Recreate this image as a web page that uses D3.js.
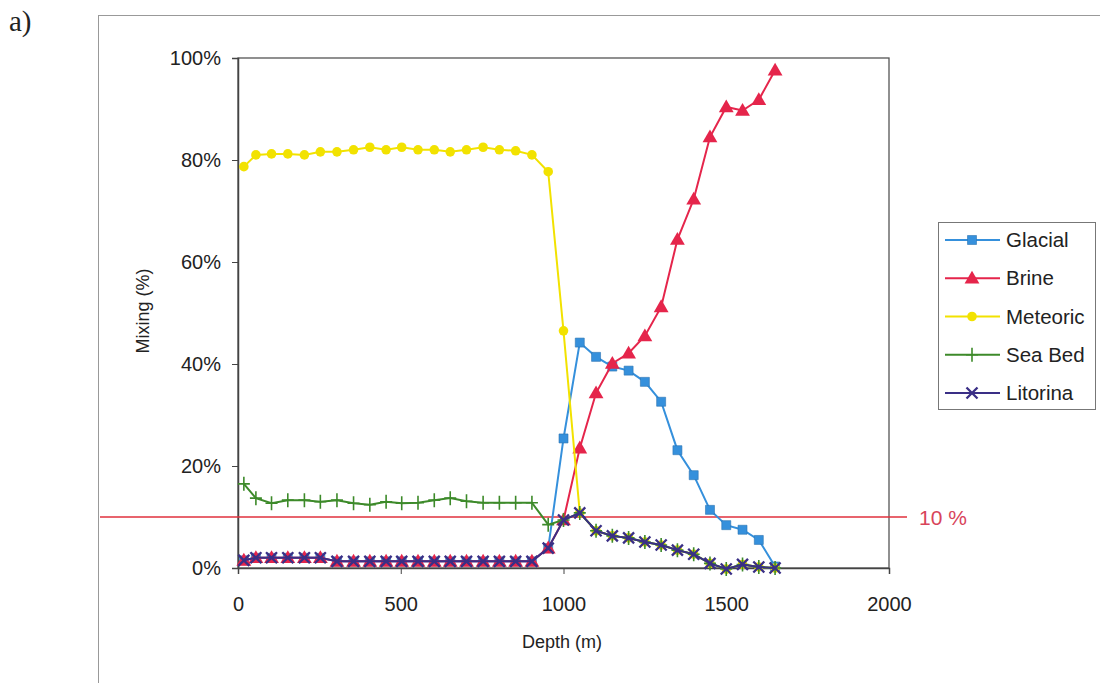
<!DOCTYPE html>
<html>
<head>
<meta charset="utf-8">
<script src="https://cdn.jsdelivr.net/npm/d3@7"></script>
<style>
  body { margin: 0; background: #fff; }
  text { font-family: "Liberation Sans", Arial, sans-serif; fill: #222; }
</style>
</head>
<body>
<svg id="chart" width="1100" height="683"></svg>
<script>
const depth = [18, 55, 103, 153, 204, 253, 304, 355, 405, 455, 503, 553, 603, 652, 702, 753, 803, 853, 903, 953,
  1000, 1050, 1100, 1150, 1200, 1250, 1300, 1350, 1400, 1450, 1500, 1550, 1600, 1650];

const glacial = [1.5, 2.0, 2.0, 2.0, 2.0, 2.0, 1.3, 1.3, 1.3, 1.3, 1.3, 1.3, 1.3, 1.3, 1.3, 1.3, 1.3, 1.3, 1.3, 3.9,
  25.4, 44.2, 41.4, 39.5, 38.7, 36.5, 32.6, 23.1, 18.2, 11.4, 8.4, 7.5, 5.5, 0.3];
const brine = [1.5, 2.0, 2.0, 2.0, 2.0, 2.0, 1.3, 1.3, 1.3, 1.3, 1.3, 1.3, 1.3, 1.3, 1.3, 1.3, 1.3, 1.3, 1.3, 3.9,
  9.4, 23.5, 34.3, 40.1, 42.1, 45.5, 51.2, 64.4, 72.3, 84.5, 90.4, 89.7, 91.8, 97.6];
const meteoric = [78.7, 81.0, 81.2, 81.2, 81.0, 81.6, 81.6, 82.0, 82.5, 82.0, 82.5, 82.0, 82.0, 81.6, 82.0, 82.5, 82.0, 81.8, 81.0, 77.7,
  46.5, 10.8, 7.3, 6.3, 5.9, 5.1, 4.5, 3.5, 2.7, 0.9, -0.2, 0.7, 0.2, 0.0];
const seaBed = [16.5, 13.7, 12.7, 13.3, 13.3, 13.0, 13.3, 12.7, 12.4, 13.0, 12.7, 12.8, 13.3, 13.7, 13.1, 12.8, 12.8, 12.8, 12.8, 8.5,
  9.4, 10.8, 7.3, 6.3, 5.9, 5.1, 4.5, 3.5, 2.7, 0.9, -0.2, 0.7, 0.2, 0.0];
const litorina = [1.5, 2.0, 2.0, 2.0, 2.0, 2.0, 1.3, 1.3, 1.3, 1.3, 1.3, 1.3, 1.3, 1.3, 1.3, 1.3, 1.3, 1.3, 1.3, 3.9,
  9.4, 10.8, 7.3, 6.3, 5.9, 5.1, 4.5, 3.5, 2.7, 0.9, -0.2, 0.7, 0.2, 0.0];

const xTicks = [0, 500, 1000, 1500, 2000];
const yTicks = [0, 20, 40, 60, 80, 100];
const threshold = 10;
const thresholdLabel = '10 %';

const series = [
  { name: 'Glacial', values: glacial, color: '#3590dc', marker: 'square' },
  { name: 'Brine', values: brine, color: '#e5254b', marker: 'triangle' },
  { name: 'Meteoric', values: meteoric, color: '#f2e200', marker: 'circle' },
  { name: 'Sea Bed', values: seaBed, color: '#3d8a2a', marker: 'plus' },
  { name: 'Litorina', values: litorina, color: '#3a2f86', marker: 'x' }
];

const svg = d3.select('#chart');
const margin = { left: 238, right: 889, top: 58, bottom: 568 };

const x = d3.scaleLinear().domain([0, 2000]).range([margin.left, margin.right]);
const y = d3.scaleLinear().domain([0, 100]).range([margin.bottom, margin.top]);

// outer chart frame (runs off the page on right/bottom)
svg.append('rect')
  .attr('x', 98.5).attr('y', 15.5).attr('width', 1020).attr('height', 700)
  .attr('fill', 'none').attr('stroke', '#999').attr('stroke-width', 1);

svg.append('text')
  .attr('x', 9).attr('y', 31)
  .style('font-family', '"Liberation Serif", "Times New Roman", serif')
  .style('font-size', '29px')
  .text('a)');

// plot area box
svg.append('rect')
  .attr('x', margin.left).attr('y', margin.top)
  .attr('width', margin.right - margin.left).attr('height', margin.bottom - margin.top)
  .attr('fill', 'none').attr('stroke', '#555').attr('stroke-width', 1.3);

const xAxis = svg.append('g')
  .attr('transform', `translate(0,${margin.bottom})`)
  .call(d3.axisBottom(x).tickValues(xTicks).tickSize(6).tickPadding(27).tickFormat(d3.format('d')));
const yAxis = svg.append('g')
  .attr('transform', `translate(${margin.left},0)`)
  .call(d3.axisLeft(y).tickValues(yTicks).tickSize(6).tickPadding(11).tickFormat(d => d + '%'));

[xAxis, yAxis].forEach(g => {
  g.select('.domain').attr('stroke', '#444').attr('stroke-width', 1.5);
  g.selectAll('.tick line').attr('stroke', '#444');
  g.selectAll('.tick text').style('font-size', '20px').attr('fill', '#222');
});
xAxis.selectAll('.tick text').attr('dy', '0.5em');

svg.append('text')
  .attr('transform', 'translate(149,311) rotate(-90)')
  .attr('text-anchor', 'middle')
  .style('font-size', '18px')
  .text('Mixing (%)');

svg.append('text')
  .attr('x', 562).attr('y', 648)
  .attr('text-anchor', 'middle')
  .style('font-size', '18px')
  .text('Depth (m)');

// 10% reference line
svg.append('line')
  .attr('x1', 100).attr('x2', 907)
  .attr('y1', y(threshold)).attr('y2', y(threshold))
  .attr('stroke', '#e0303c').attr('stroke-width', 1.6);
svg.append('text')
  .attr('x', 919).attr('y', y(threshold) + 8)
  .style('font-size', '21px')
  .style('fill', '#d8445a')
  .text(thresholdLabel);

function drawMarker(g, type, color) {
  if (type === 'square') {
    g.append('path').attr('d', d3.symbol(d3.symbolSquare, 81)()).attr('fill', color).attr('stroke', d3.color(color).darker(0.6)).attr('stroke-width', 0.6);
  } else if (type === 'triangle') {
    g.append('path').attr('d', d3.symbol(d3.symbolTriangle, 95)()).attr('transform', 'translate(0,1)').attr('fill', color);
  } else if (type === 'circle') {
    g.append('path').attr('d', d3.symbol(d3.symbolCircle, 72)()).attr('fill', color);
  } else if (type === 'plus') {
    g.append('path').attr('d', 'M-6,0H6M0,-7V7').attr('stroke', color).attr('stroke-width', 1.6);
  } else if (type === 'x') {
    g.append('path').attr('d', 'M-5.5,-5.5L5.5,5.5M-5.5,5.5L5.5,-5.5').attr('stroke', color).attr('stroke-width', 2.3);
  }
}

const line = d3.line().x(d => x(d[0])).y(d => y(d[1]));

series.forEach(s => {
  const pts = depth.map((d, i) => [d, s.values[i]]);
  svg.append('path')
    .datum(pts)
    .attr('fill', 'none')
    .attr('stroke', s.color)
    .attr('stroke-width', 2)
    .attr('d', line);
  pts.forEach(p => {
    const g = svg.append('g').attr('transform', `translate(${x(p[0])},${y(p[1])})`);
    drawMarker(g, s.marker, s.color);
  });
});

// legend
const legend = svg.append('g');
legend.append('rect')
  .attr('x', 938.5).attr('y', 222.5).attr('width', 157).attr('height', 187)
  .attr('fill', '#fff').attr('stroke', '#777').attr('stroke-width', 1);

const rowY = d3.scalePoint().domain(series.map(s => s.name)).range([240, 393]);
series.forEach(s => {
  const ry = rowY(s.name);
  legend.append('line')
    .attr('x1', 945).attr('x2', 1000).attr('y1', ry).attr('y2', ry)
    .attr('stroke', s.color).attr('stroke-width', 2);
  drawMarker(legend.append('g').attr('transform', `translate(972,${ry})`), s.marker, s.color);
  legend.append('text')
    .attr('x', 1006).attr('y', ry + 7)
    .style('font-size', '20.5px')
    .text(s.name);
});
</script>
</body>
</html>
